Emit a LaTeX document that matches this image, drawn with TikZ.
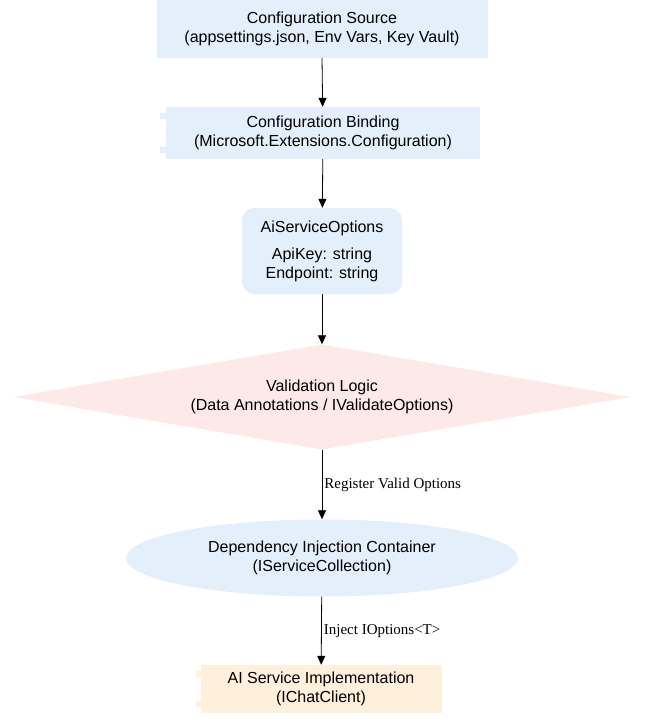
\documentclass[tikz,border=0pt]{standalone}
\usepackage{fontspec}
\setmainfont{Liberation Sans}
\newfontfamily\edgefont{Liberation Serif}
\usetikzlibrary{arrows.meta, positioning, shapes.geometric}
\definecolor{boxblue}{RGB}{227, 240, 251}
\definecolor{boxpink}{RGB}{253, 232, 234}
\definecolor{boxpeach}{RGB}{255, 240, 220}

\begin{document}
\begin{tikzpicture}[x=1pt, y=-1pt,
    every node/.style={font=\fontsize{16}{19}\selectfont, align=center},
    box/.style={draw=none, fill=boxblue, inner sep=0pt},
    flow/.style={-{Triangle[length=9pt, width=8pt]}, thick},
    edgelabel/.style={font=\edgefont\fontsize{15}{18}\selectfont, right, inner sep=2pt}]
    \useasboundingbox (0,0) rectangle (645,722);
    % Quelle der Konfiguration (Notiz mit Eselsohr)
    \fill[boxblue] (157,0) -- (478,0) -- (488,-10) -- (488,58) -- (157,58) -- cycle;
    \node (source) at (322,29) {Configuration Source\\(appsettings.json, Env Vars, Key Vault)};
    % Bindung (Komponente)
    \node[box, minimum width=314pt, minimum height=52pt] (binding) at (323,133) {Configuration Binding\\(Microsoft.Extensions.Configuration)};
    \fill[boxblue] (160,113) rectangle (168,119) (160,147) rectangle (168,153);
    % Optionen
    \node[box, rounded corners=12pt, minimum width=160pt, minimum height=86pt] (options) at (322,251)
        {AiServiceOptions\\[8pt]ApiKey: string\\Endpoint: string};
    % Validierung
    \node[diamond, fill=boxpink, aspect=5.9, inner sep=-4pt, minimum width=617pt, minimum height=105pt] (validate) at (322,397)
        {Validation Logic\\(Data Annotations / IValidateOptions)};
    % Container
    \node[ellipse, fill=boxblue, minimum width=392pt, minimum height=77pt, inner sep=0pt] (container) at (322,558)
        {Dependency Injection Container\\(IServiceCollection)};
    % Implementierung
    \node[box, fill=boxpeach, minimum width=241pt, minimum height=48pt] (impl) at (321,689)
        {AI Service Implementation\\(IChatClient)};
    \fill[boxpeach] (196,671) rectangle (202,677) (196,701) rectangle (202,707);
    % Verbindungen
    \draw[flow] (322,58) -- (binding);
    \draw[flow] (binding) -- (options);
    \draw[flow] (options) -- (validate);
    \draw[flow] (validate) -- node[edgelabel] {Register Valid Options} (container);
    \draw[flow] (container) -- node[edgelabel] {Inject IOptions<T>} (impl);
\end{tikzpicture}
\end{document}
